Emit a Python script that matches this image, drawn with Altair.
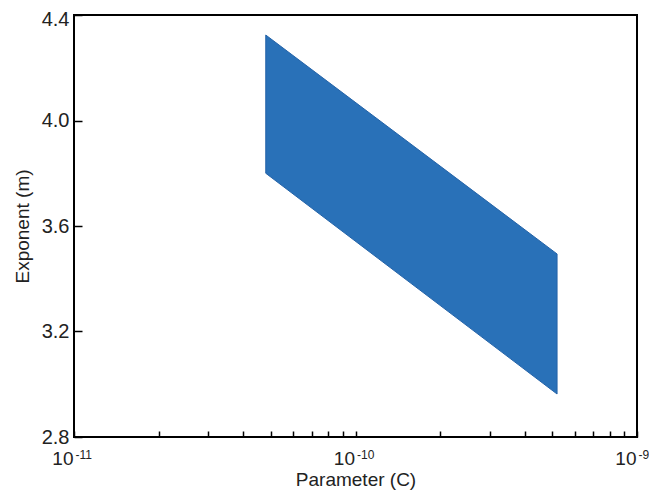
import altair as alt
import pandas as pd

# Band corners
param_c = [4.8e-11, 5.2e-10]
m_lower = [3.80, 2.963]
m_upper = [4.324, 3.494]

x_label_values = [1e-11, 1e-10, 1e-9]
x_label_base = ["10", "10", "10"]
x_label_exponents = ["-11", "-10", "-9"]
x_tick_values = [k * 10.0 ** e for e in (-11, -10) for k in range(1, 10)] + [1e-9]
y_tick_values = [2.8, 3.2, 3.6, 4.0, 4.4]

df = pd.DataFrame({"C": param_c, "lo": m_lower, "hi": m_upper})


def make_expr(texts):
    parts = "".join(
        f"datum.value < {v * 3} ? '{t}' : " for v, t in zip(x_label_values[:-1], texts[:-1])
    )
    return parts + f"'{texts[-1]}'"


FONT = "Liberation Sans"
TXT = "#222222"

xscale = alt.Scale(type="log", domain=[1e-11, 1e-9])
yscale = alt.Scale(domain=[2.8, 4.4])

band = alt.Chart(df).mark_area(color="#2971b8", stroke="#2463a8", strokeWidth=1).encode(
    x=alt.X("C:Q", scale=xscale, axis=alt.Axis(
        orient="bottom", values=x_label_values, labelExpr=make_expr(x_label_base),
        ticks=False, domain=False, grid=False, labelPadding=12, labelFontSize=19,
        labelFont=FONT, labelColor=TXT, labelAlign="right", labelOffset=-1,
        labelFlush=False, labelOverlap=False, labelBound=False,
        title="Parameter (C)", titleFont=FONT, titleFontSize=19, titleFontWeight="normal",
        titleColor=TXT, titlePadding=2)),
    y=alt.Y("lo:Q", scale=yscale, axis=alt.Axis(
        orient="left", values=y_tick_values, format=".1f", ticks=False, domain=False,
        grid=False, labelPadding=5, labelFontSize=20, labelFont=FONT, labelColor=TXT,
        labelOffset={"condition": {"test": "datum.value > 4.3", "value": 4}, "value": 0},
        labelBound=False,
        title="Exponent (m)", titleFont=FONT, titleFontSize=19, titleFontWeight="normal",
        titleColor=TXT, titlePadding=9)),
    y2="hi:Q",
)

ticks = alt.Chart(df).mark_area(opacity=0).encode(
    x=alt.X("C:Q", scale=xscale, axis=alt.Axis(
        orient="bottom", offset=-6, values=x_tick_values, labels=False, domain=False,
        grid=False, tickSize=6, tickColor="black", tickWidth=1.5, title="")),
    y=alt.Y("lo:Q", scale=yscale, axis=alt.Axis(
        orient="left", offset=-8, values=y_tick_values, labels=False, domain=False,
        grid=False, tickSize=8, tickColor="black", tickWidth=1.5, title="")),
    y2="hi:Q",
)

exponents = alt.Chart(df).mark_area(opacity=0).encode(
    x=alt.X("C:Q", scale=xscale, axis=alt.Axis(
        orient="bottom", values=x_label_values, labelExpr=make_expr(x_label_exponents),
        ticks=False, domain=False, grid=False, labelPadding=12, labelFontSize=12,
        labelFont=FONT, labelColor=TXT, labelAlign="left", labelOffset=1,
        labelFlush=False, labelOverlap=False, labelBound=False, title="")),
    y=alt.Y("lo:Q", scale=yscale, axis=None),
    y2="hi:Q",
)

chart = alt.layer(band, ticks, exponents).resolve_scale(
    x="independent", y="independent"
).resolve_axis(
    x="independent", y="independent"
).properties(
    width=563, height=422,
    autosize=alt.AutoSizeParams(type="none"),
    padding={"left": 66, "top": 7, "right": 12, "bottom": 53},
).configure_view(
    stroke="black", strokeWidth=2
)

chart.save("out.html", embed_options={"renderer": "svg", "actions": False})
